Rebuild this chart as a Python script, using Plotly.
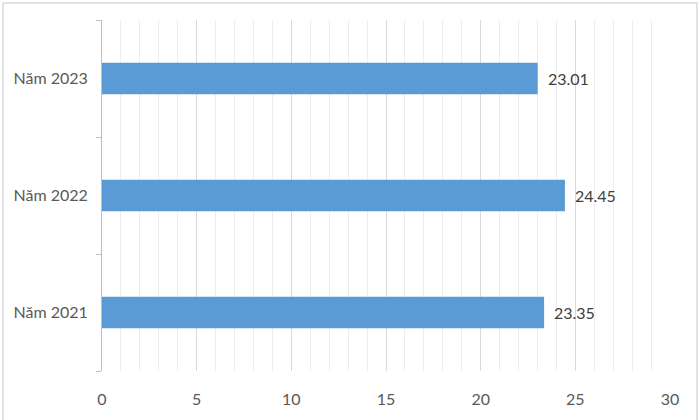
import plotly.graph_objects as go

# values
categories = ["Năm 2021", "Năm 2022", "Năm 2023"]
values = [23.35, 24.45, 23.01]
x_ticks = [0, 5, 10, 15, 20, 25, 30]

W, H = 700, 420
L, R, T, B = 102, 30, 20, 47
pw, ph = W - L - R, H - T - B

fig = go.Figure()
fig.add_trace(go.Bar(
    y=categories, x=values,
    orientation="h",
    marker=dict(color="#5B9BD5", line=dict(width=0)),
    width=0.27,
))

# value labels just past the bar ends
for c, v in zip(categories, values):
    fig.add_annotation(
        x=v, y=c, text=f"{v:.2f}", showarrow=False,
        xanchor="left", xshift=8,
        font=dict(color="#404040", size=16),
    )

fig.update_xaxes(
    range=[0, 30],
    tickvals=x_ticks,
    showgrid=True, gridcolor="#D9D9D9", gridwidth=1,
    minor=dict(dtick=1, showgrid=True, gridcolor="#EDEDED", gridwidth=1),
    showline=False, zeroline=False,
    ticks="outside", ticklen=14, tickcolor="rgba(0,0,0,0)",
    tickfont=dict(color="#595959", size=16),
)
fig.update_yaxes(
    showgrid=False,
    showline=True, linecolor="#BFBFBF", linewidth=1,
    ticks="outside", tickson="boundaries", ticklen=5, tickcolor="#BFBFBF",
    ticklabelstandoff=10,
    tickfont=dict(color="#595959", size=16),
)

# outer chart border
fig.add_shape(
    type="rect", xref="paper", yref="paper",
    x0=(3 - L) / pw, x1=(W - 3 - L) / pw,
    y0=(B - H + 3) / ph, y1=(H - 3 - B) / ph,
    line=dict(color="#D9D9D9", width=1.5), layer="above",
)

fig.update_layout(
    width=W, height=H,
    margin=dict(l=L, r=R, t=T, b=B),
    paper_bgcolor="white", plot_bgcolor="white",
    font=dict(family="Lato, Open Sans, sans-serif"),
    showlegend=False,
)

fig.write_html(
    "out.html",
    config={"displayModeBar": False},
    post_script="document.body.style.margin='0';document.body.style.overflow='hidden';",
)
